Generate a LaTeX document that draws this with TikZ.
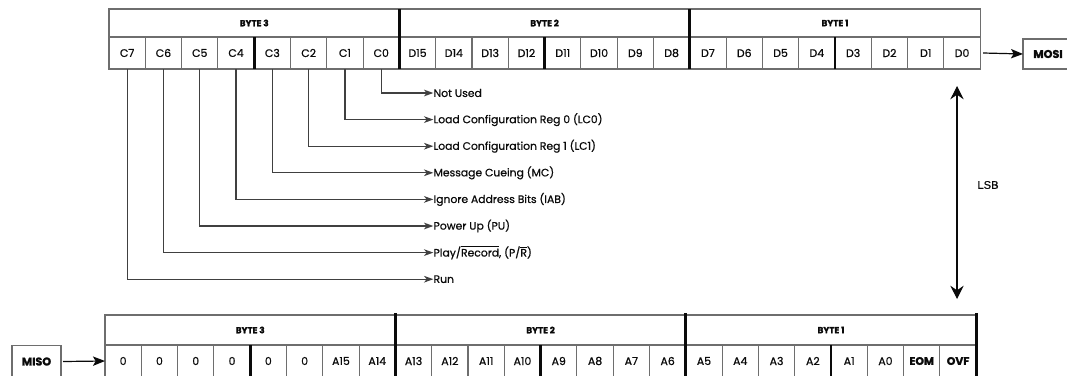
\documentclass[tikz,border=0pt]{standalone}
\usepackage{fontspec}
\setmainfont{Poppins}
\newfontfamily\gothic{Poppins}[FakeBold=0.7]
\newfontfamily\heavy{Poppins}[FakeBold=1.6,BoldFont={* Bold}]
\newfontfamily\lsbfont{Liberation Sans}[FakeBold=0.5]
\usetikzlibrary{arrows.meta,positioning,calc}
\definecolor{rule}{RGB}{110,110,110}
\definecolor{ink}{RGB}{10,10,10}
\tikzset{
  bitcell/.style={draw=rule,line width=0.8pt,inner sep=0pt,outer sep=0pt,
    minimum width=27.225pt,minimum height=24pt,font=\gothic\fontsize{8.2}{9}\selectfont,text=ink},
  bytecell/.style={draw=rule,line width=0.8pt,inner sep=0pt,outer sep=0pt,
    minimum width=217.8pt,minimum height=21pt,font=\heavy\fontsize{6.6}{7}\selectfont\bfseries,text=ink},
  pinbox/.style={draw=rule,line width=0.8pt,inner sep=0pt,outer sep=0pt,
    minimum height=22.5pt,font=\heavy\fontsize{8.4}{9}\selectfont\bfseries,text=ink},
  splitline/.style={line width=2pt,ink},
  feed/.style={draw=black!75,line width=0.9pt,-{Stealth[length=7pt,width=5pt,inset=2pt]}},
  bitnote/.style={anchor=west,inner sep=0pt,xshift=4pt,font=\gothic\fontsize{8.1}{9}\selectfont,text=ink},
  bigarrow/.style={ink,line width=0.9pt,-{Stealth[length=9pt,width=7pt,inset=2pt]}},
}
\begin{document}
\begin{tikzpicture}[x=0.75pt,y=-0.75pt]
  \useasboundingbox (0,0) rectangle (1067,375);
  % MOSI register
  \foreach \b [count=\j from 0] in {3,2,1}
    \node[bytecell] (mosib\b) at ({109+(\j*8+4)*36.3},23) {BYTE \b};
  \foreach \lab [count=\i from 0] in {C7,C6,C5,C4,C3,C2,C1,C0,D15,D14,D13,D12,D11,D10,D9,D8,D7,D6,D5,D4,D3,D2,D1,D0}{
    \pgfmathtruncatemacro\n{23-\i}
    \node[bitcell] (mosi\n) at ({109+(\i+0.5)*36.3},53) {\lab};
  }
  \foreach \n in {20,12,4}
    \draw[splitline] (mosi\n.north east) -- (mosi\n.south east);
  \draw[splitline] (mosi16.south east) -- (mosib3.north east);
  \draw[splitline] (mosi8.south east) -- (mosib2.north east);
  \node[pinbox,minimum width=37.5pt] (mosi) at (1048,54) {MOSI};
  \draw[bigarrow] (mosi0.east) ++(3,0) coordinate (mosiout) -- (mosi.west);

  % MISO register
  \foreach \b [count=\j from 0] in {3,2,1}
    \node[bytecell,minimum height=22.5pt] (misob\b) at ({105+(\j*8+4)*36.3},330) {BYTE \b};
  \foreach \lab [count=\i from 0] in {0,0,0,0,0,0,A15,A14,A13,A12,A11,A10,A9,A8,A7,A6,A5,A4,A3,A2,A1,A0,{\heavy\bfseries EOM},{\heavy\bfseries OVF}}{
    \pgfmathtruncatemacro\n{23-\i}
    \node[bitcell] (miso\n) at ({105+(\i+0.5)*36.3},361) {\lab};
  }
  \foreach \n in {20,12,4}
    \draw[splitline] (miso\n.north east) -- (miso\n.south east);
  \draw[splitline] (miso16.south east) -- ([yshift=1.5pt]misob3.north east);
  \draw[splitline] (miso8.south east) -- ([yshift=1.5pt]misob2.north east);
  \draw[splitline] (miso0.south east) -- ([yshift=1.5pt]misob1.north east);
  \node[pinbox,minimum width=36.75pt,minimum height=24pt] (miso) at (36.5,361.5) {MISO};
  \draw[bigarrow] (miso.east) ++(2,0) -- (miso23.west);

  % control bits
  \foreach \k/\txt in {0/Not Used,1/Load Configuration Reg 0 (LC0),2/Load Configuration Reg 1 (LC1),
      3/Message Cueing (MC),4/Ignore Address Bits (IAB),5/Power Up (PU),
      6/{Play/$\overline{\mbox{Record}}$, (P/$\overline{\mbox{R}}$)},7/Run}{
    \pgfmathtruncatemacro\n{16+\k}
    \node[bitnote] (note\k) at (428,{93+26.6*\k}) {\txt};
    \draw[feed] (mosi\n.south) |- (note\k.west);
  }

  % LSB
  \coordinate (lsbtop) at (957,86);
  \coordinate (lsbbot) at (957,299);
  \draw[ink,line width=0.8pt,{Stealth[length=10pt,width=10pt,inset=3.5pt]}-{Stealth[length=10pt,width=10pt,inset=3.5pt]}] (lsbtop) -- (lsbbot);
  \node[font=\lsbfont\fontsize{8.4}{9}\selectfont,text=ink] (lsb) at (988,185) {LSB};
\end{tikzpicture}
\end{document}
